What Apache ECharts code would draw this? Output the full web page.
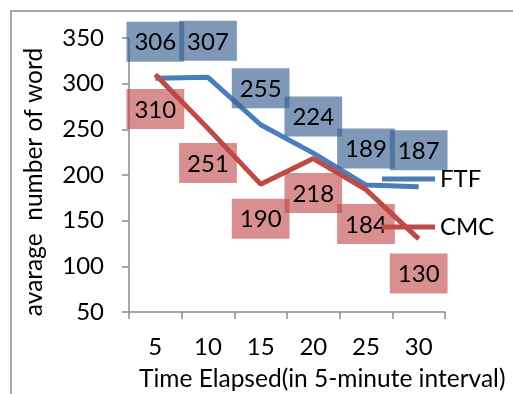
<!DOCTYPE html>
<html><head><meta charset="utf-8">
<script src="https://cdn.jsdelivr.net/npm/echarts@6/dist/echarts.min.js"></script>
<style>html,body{margin:0;padding:0;background:#fff}#c{width:513px;height:394px}</style>
</head><body><div id="c"></div>
<script>
const categories = ['5','10','15','20','25','30'];
const ftf = [306, 307, 255, 224, 189, 187];
const cmc = [310, 251, 190, 218, 184, 130];
const yTicks = {min: 50, max: 350, interval: 50};
const xTitle = 'Time Elapsed(in 5-minute interval)';
const yTitle = 'avarage  number of word';

const FONT = 'Lato';
const FS = 24;
const chart = echarts.init(document.getElementById('c'), null, {renderer: 'canvas'});
function lbl(pos, dist, bg) {
  return {show: true, position: pos, distance: dist, color: '#000', fontFamily: FONT, fontSize: FS,
    lineHeight: 24, padding: [9, 8, 7, 8], backgroundColor: bg};
}
chart.setOption({
  animation: false,
  textStyle: {fontFamily: FONT},
  grid: {left: 129, top: 38, right: 68, bottom: 82, containLabel: false},
  graphic: [
    {type: 'rect', shape: {x: 11, y: 11, width: 600, height: 600}, style: {fill: 'none', stroke: '#8c8c8c', lineWidth: 1.5}, z: -1},
    {type: 'text', left: 139, top: 367, style: {text: xTitle, font: '24.5px ' + FONT, fill: '#000'}},
    {type: 'text', x: 22, y: 182, rotation: Math.PI / 2, style: {text: yTitle, font: '24.5px ' + FONT, fill: '#000', align: 'center', verticalAlign: 'top'}}
  ],
  legend: [
    {data: ['FTF'], left: 382, top: 167, padding: 0, icon: 'rect', itemWidth: 53, itemHeight: 5, itemGap: 5,
      textStyle: {fontFamily: FONT, fontSize: FS, color: '#000'}},
    {data: ['CMC'], left: 382, top: 215, padding: 0, icon: 'rect', itemWidth: 53, itemHeight: 5, itemGap: 5,
      textStyle: {fontFamily: FONT, fontSize: FS, color: '#000'}}
  ],
  xAxis: {
    type: 'category', data: categories, boundaryGap: true,
    axisLine: {lineStyle: {color: '#8c8c8c', width: 1.5}},
    axisTick: {show: true, length: 7, lineStyle: {color: '#8c8c8c', width: 1.5}},
    axisLabel: {color: '#000', fontFamily: FONT, fontSize: FS, margin: 23},
    splitLine: {show: false}
  },
  yAxis: {
    type: 'value', min: yTicks.min, max: yTicks.max, interval: yTicks.interval,
    axisLine: {show: true, lineStyle: {color: '#8c8c8c', width: 1.5}},
    axisTick: {show: true, length: 7, lineStyle: {color: '#8c8c8c', width: 1.5}},
    axisLabel: {color: '#000', fontFamily: FONT, fontSize: FS, margin: 25},
    splitLine: {show: false}
  },
  series: [
    {name: 'FTF', type: 'line', data: ftf, symbol: 'circle', symbolSize: 1, showSymbol: true, color: '#4a7ebb',
      itemStyle: {color: '#4a7ebb'},
      lineStyle: {width: 5, color: '#4a7ebb'},
      label: lbl('top', 16, 'rgba(60,97,146,0.65)')},
    {name: 'CMC', type: 'line', data: cmc, symbol: 'circle', symbolSize: 1, showSymbol: true, color: '#be4b48',
      itemStyle: {color: '#be4b48'},
      lineStyle: {width: 5, color: '#be4b48'},
      label: lbl('bottom', 14, 'rgba(192,68,68,0.6)')}
  ]
});
</script></body></html>
